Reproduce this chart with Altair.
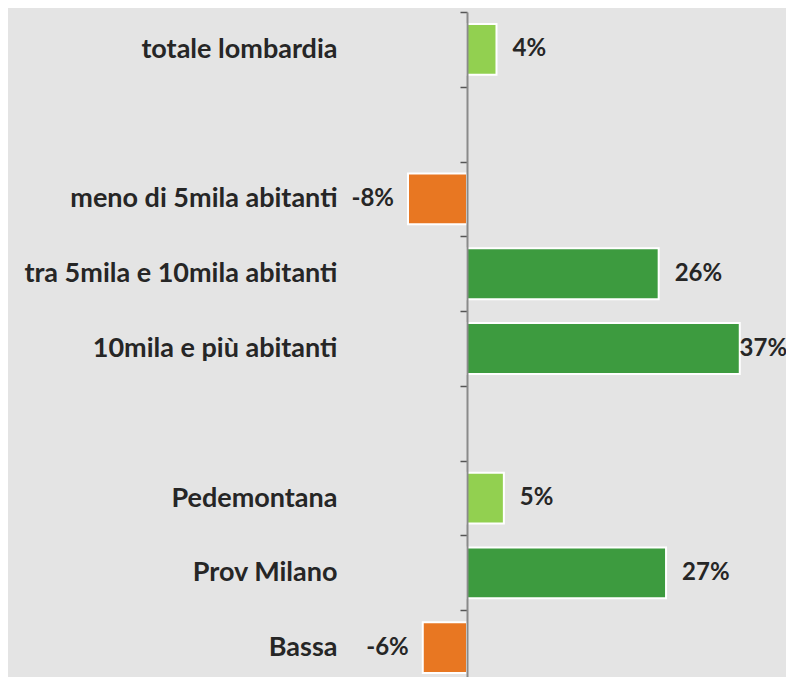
import altair as alt
import pandas as pd

categories = ["totale lombardia", " ", "meno di 5mila abitanti",
              "tra 5mila e 10mila abitanti", "10mila e più abitanti", "  ",
              "Pedemontana", "Prov Milano", "Bassa"]
values = [4, None, -8, 26, 37, None, 5, 27, -6]
groups = ["chiaro", None, "negativo", "scuro", "scuro", None, "chiaro", "scuro", "negativo"]

group_names = ["chiaro", "scuro", "negativo"]
group_colors = ["#92d050", "#3d9b3f", "#e87722"]

df = pd.DataFrame({"cat": categories, "v": values, "g": groups}).dropna()

FONT = "Lato"
BG = "#e4e4e4"
TXT = "#262626"

yscale = alt.Scale(domain=categories, range=[0, 673], paddingInner=0.32, paddingOuter=0.16)
xscale = alt.Scale(domain=[0, 43], nice=False)

y = alt.Y(
    "cat:N",
    scale=yscale,
    axis=alt.Axis(
        title=None, domainColor="#8a8a8a", domainWidth=2, tickColor="#555555",
        tickWidth=1.5, tickSize=7, tickOffset=-37.39, labelOffset=37.39,
        labelPadding=123, labelLimit=500, labelFont=FONT, labelFontSize=27,
        labelFontWeight="bold", labelColor=TXT, zindex=1,
    ),
)

base = alt.Chart(df)

bars = base.mark_bar(stroke="white", strokeWidth=2).encode(
    x=alt.X("v:Q", scale=xscale, axis=None),
    color=alt.Color("g:N", scale=alt.Scale(domain=group_names, range=group_colors), legend=None),
)

label_expr = "(datum.v < 0 ? '-' : '') + abs(datum.v) + '%'"

pos = base.transform_filter("datum.v > 0").transform_calculate(
    lx="min(datum.v, 34.8)", t=label_expr
).mark_text(align="left", baseline="middle", dx=16, font=FONT, fontSize=24,
            fontWeight="bold", color=TXT).encode(
    x=alt.X("lx:Q", scale=xscale, axis=None),
    text="t:N",
)

neg = base.transform_filter("datum.v < 0").transform_calculate(
    t=label_expr
).mark_text(align="right", baseline="middle", dx=-14, font=FONT, fontSize=24,
            fontWeight="bold", color=TXT).encode(
    x=alt.X("v:Q", scale=xscale, axis=None),
    text="t:N",
)

chart = alt.layer(bars, pos, neg).encode(y=y).properties(
    width=317, height=665,
    autosize=alt.AutoSizeParams(type="none"),
    padding={"left": 459, "top": 4, "right": 2, "bottom": 0},
    background=BG,
).configure_view(stroke=None)

chart.save("out.html", embed_options={"renderer": "svg", "actions": False})
